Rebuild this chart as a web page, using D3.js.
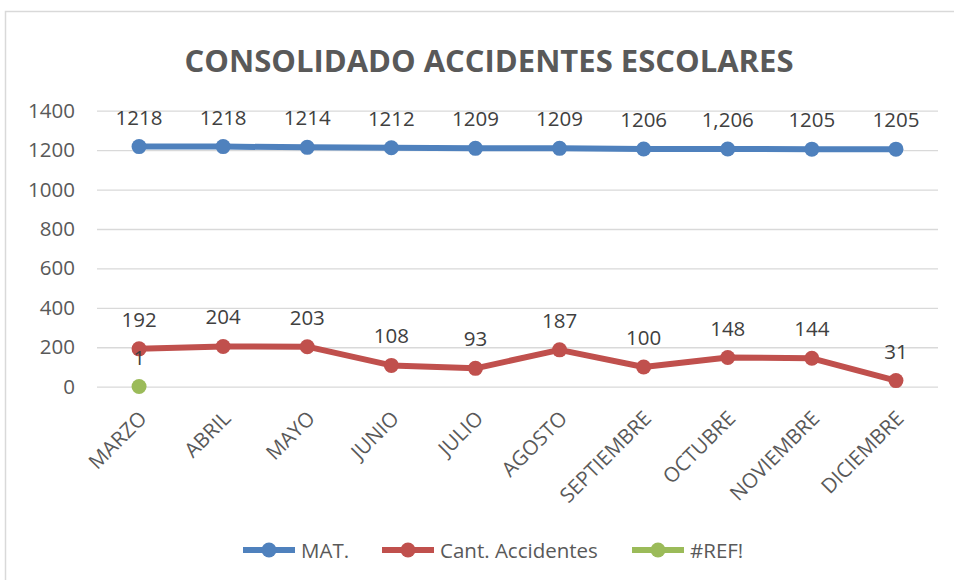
<!DOCTYPE html>
<html><head><meta charset="utf-8">
<script src="https://cdn.jsdelivr.net/npm/d3@7"></script>
<style>body{margin:0;background:#fff}svg{display:block}</style>
</head><body>
<svg id="c" width="954" height="580"></svg>
<script>
const months = ["MARZO","ABRIL","MAYO","JUNIO","JULIO","AGOSTO","SEPTIEMBRE","OCTUBRE","NOVIEMBRE","DICIEMBRE"];
const matValues = [1218,1218,1214,1212,1209,1209,1206,1206,1205,1205];
const matLabels = ["1218","1218","1214","1212","1209","1209","1206","1,206","1205","1205"];
const accValues = [192,204,203,108,93,187,100,148,144,31];
const refValues = [1];
const yTicks = [0,200,400,600,800,1000,1200,1400];
const seriesNames = ["MAT.","Cant. Accidentes","#REF!"];
const colors = ["#4F81BD","#C0504D","#9BBB59"];

const svg = d3.select("#c");
const font = "'Open Sans', 'Liberation Sans', sans-serif";
const txt = "#595959";
const fs = 20.5;

svg.append("rect").attr("x",5.5).attr("y",11.5).attr("width",1000).attr("height",700)
  .attr("fill","#fff").attr("stroke","#d9d9d9").attr("stroke-width",1.5);

const x = d3.scaleBand().domain(months).range([97,938]);
const y = d3.scaleLinear().domain([0,1400]).range([386.7,110.7]);
const cx = d => x(d) + x.bandwidth()/2;

// title
svg.append("text").attr("x",489).attr("y",72).attr("text-anchor","middle")
  .attr("font-family","'Open Sans', sans-serif").attr("font-weight","bold")
  .attr("font-size",31).attr("fill",txt).attr("letter-spacing","0")
  .text("CONSOLIDADO ACCIDENTES ESCOLARES");

// grid
const yAxis = d3.axisLeft(y).tickValues(yTicks).tickFormat(d3.format("d")).tickSize(-(938-97)).tickPadding(22);
const gy = svg.append("g").attr("transform","translate(97,0)").call(yAxis);
gy.select(".domain").remove();
gy.selectAll(".tick line").attr("stroke","#d9d9d9").attr("stroke-width",1.3);
gy.selectAll(".tick text").attr("font-family",font).attr("font-size",fs).attr("fill",txt);

// x axis labels
const xAxis = d3.axisBottom(x).tickSize(0).tickPadding(0);
const gx = svg.append("g").attr("transform","translate(0,386.7)").call(xAxis);
gx.select(".domain").remove();
gx.selectAll(".tick text").attr("font-family",font).attr("font-size",fs).attr("fill",txt)
  .attr("text-anchor","end").attr("dy",0)
  .attr("transform","translate(9,33) rotate(-45)");

const line = d3.line().x((d,i)=>cx(months[i])).y(d=>y(d));

function drawSeries(vals, color){
  svg.append("path").datum(vals).attr("d",line).attr("fill","none")
    .attr("stroke",color).attr("stroke-width",6).attr("stroke-linejoin","round");
  svg.selectAll(null).data(vals).enter().append("circle")
    .attr("cx",(d,i)=>cx(months[i])).attr("cy",d=>y(d)).attr("r",7.5).attr("fill",color);
}
drawSeries(matValues, colors[0]);
drawSeries(accValues, colors[1]);
drawSeries(refValues, colors[2]);

function drawLabels(vals, labels){
  svg.selectAll(null).data(vals).enter().append("text")
    .attr("x",(d,i)=>cx(months[i])).attr("y",d=>y(d)-22)
    .attr("text-anchor","middle").attr("font-family",font).attr("font-size",fs).attr("fill","#404040")
    .text((d,i)=>labels[i]);
}
drawLabels(matValues, matLabels);
drawLabels(accValues, accValues.map(String));
drawLabels(refValues, refValues.map(String));

// legend
const legendX = [243, 382, 632];
seriesNames.forEach((n,i)=>{
  const g = svg.append("g").attr("transform",`translate(${legendX[i]},550)`);
  g.append("line").attr("x1",0).attr("x2",52).attr("stroke",colors[i]).attr("stroke-width",6);
  g.append("circle").attr("cx",26).attr("r",7.5).attr("fill",colors[i]);
  g.append("text").attr("x",58).attr("y",7.5).attr("font-family",font).attr("font-size",fs)
    .attr("fill",txt).text(n);
});
</script>
</body></html>
